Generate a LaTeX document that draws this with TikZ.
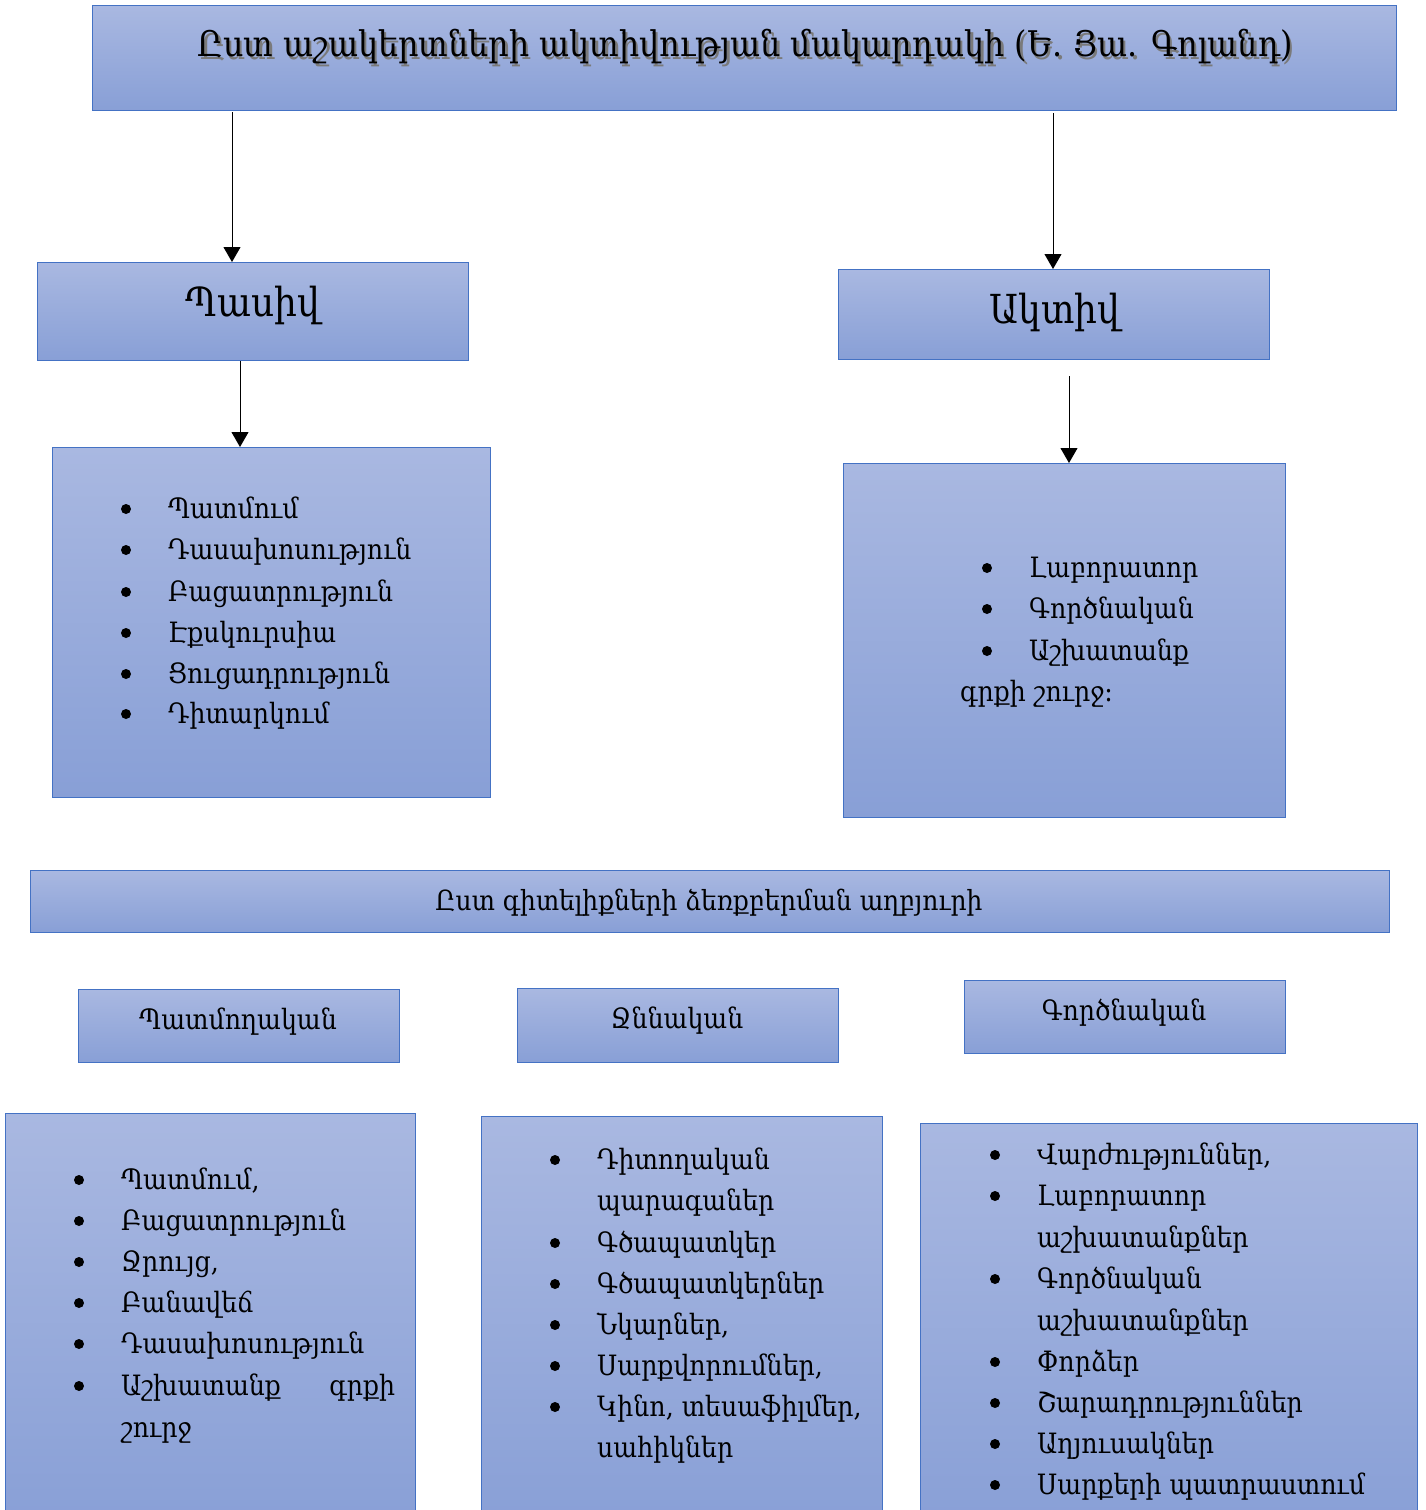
\documentclass[tikz,border=0pt]{standalone}
\usepackage{fontspec}
\setmainfont{DejaVu Serif}
\newfontfamily\condf{DejaVu Serif Condensed}
\usetikzlibrary{arrows.meta}
\definecolor{boxtop}{HTML}{A9B8E1}
\definecolor{boxbot}{HTML}{889FD6}
\definecolor{boxedge}{HTML}{4472C4}
\definecolor{shadowc}{HTML}{7A7A7A}
\tikzset{
  bx/.style={draw=boxedge,line width=1.3pt,top color=boxtop,bottom color=boxbot,inner sep=0pt,anchor=north west},
  lst/.style={inner sep=0pt,anchor=base west,font=\condf\fontsize{28}{34}\selectfont},
  arr/.style={-{Triangle[length=15pt,width=17pt]},line width=1pt,black},
  bigt/.style={inner sep=0pt,font=\condf\fontsize{40}{48}\selectfont},
  midt/.style={inner sep=0pt,font=\condf\fontsize{28}{34}\selectfont},
  bul/.style={fill=black},
}
\newcommand\mybox[5]{\node[bx,minimum width=#4pt,minimum height=#5pt] (#1) at (#2,#3) {};}
% item: name, text x, baseline y, text ; bullet drawn 42pt left of the text
\newcommand\itm[4]{\node[lst] (#1) at (#2,#3) {#4};
  \fill[bul] (#1.base west) ++(-42,-9) circle (5pt);}
\newcommand\cnt[4]{\node[lst] (#1) at (#2,#3) {#4};}
\begin{document}
\begin{tikzpicture}[x=1pt,y=-1pt]
\useasboundingbox (0,0) rectangle (1426,1510);
\clip (0,0) rectangle (1426,1510);
% boxes
\mybox{ttl}{92}{5}{1304}{105}
\mybox{pasiv}{37}{262}{431}{98}
\mybox{aktiv}{838}{269}{431}{90}
\mybox{plist}{52}{447}{438}{350}
\mybox{alist}{843}{463}{442}{354}
\mybox{sub}{30}{870}{1359}{62}
\mybox{b1}{78}{989}{321}{73}
\mybox{b2}{517}{988}{321}{74}
\mybox{b3}{964}{980}{321}{73}
\mybox{l1}{5}{1113}{410}{417}
\mybox{l2}{481}{1116}{401}{414}
\mybox{l3}{920}{1123}{497}{407}
% title with shadow
\node[inner sep=0pt,text=shadowc] (ttlsh) at (747.5,49.5) {\resizebox{1095pt}{!}{\condf\fontsize{32}{36}\selectfont Ըստ աշակերտների ակտիվության մակարդակի (Ե. Յա. Գոլանդ)}};
\node[inner sep=0pt] (ttltx) at (745,47) {\resizebox{1095pt}{!}{\condf\fontsize{32}{36}\selectfont Ըստ աշակերտների ակտիվության մակարդակի (Ե. Յա. Գոլանդ)}};
\node[bigt] (pasivtx) at (253,305) {Պասիվ};
\node[bigt] (aktivtx) at (1055,312) {Ակտիվ};
\node[inner sep=0pt] (subtx) at (709,903) {\resizebox{547pt}{!}{\condf\fontsize{28}{34}\selectfont Ըստ գիտելիքների ձեռքբերման աղբյուրի}};
\node[midt] (b1tx) at (238,1022) {Պատմողական};
\node[midt] (b2tx) at (677,1021) {Ջննական};
\node[midt] (b3tx) at (1124,1013) {Գործնական};
% arrows
\coordinate (a1s) at (232,112);
\coordinate (a2s) at (1053,113);
\coordinate (a4s) at (1069,376);
\draw[arr] (a1s) -- (a1s |- pasiv.north);
\draw[arr] (a2s) -- (a2s |- aktiv.north);
\draw[arr] (pasiv.south -| 240,0) -- (plist.north -| 240,0);
\draw[arr] (a4s) -- (a4s |- alist.north);
% pasiv list
\itm{p1}{168}{518}{Պատմում}
\itm{p2}{168}{559}{Դասախոսություն}
\itm{p3}{168}{601}{Բացատրություն}
\itm{p4}{168}{642}{Էքսկուրսիա}
\itm{p5}{168}{683}{Ցուցադրություն}
\itm{p6}{168}{723}{Դիտարկում}
% aktiv list
\itm{a1}{1029}{577}{Լաբորատոր}
\itm{a2}{1029}{618}{Գործնական}
\itm{a3}{1029}{660}{Աշխատանք}
\cnt{a4}{960}{701}{գրքի շուրջ:}
% left bottom list
\itm{q1}{121}{1189}{Պատմում,}
\itm{q2}{121}{1230}{Բացատրություն}
\itm{q3}{121}{1271}{Ջրույց,}
\itm{q4}{121}{1312}{Բանավեճ}
\itm{q5}{121}{1353}{Դասախոսություն}
\itm{q6}{121}{1395}{\makebox[274pt][s]{Աշխատանք\hfill գրքի}}
\cnt{q7}{121}{1437}{շուրջ}
% middle bottom list
\itm{r1}{597}{1169}{Դիտողական}
\cnt{r2}{597}{1210}{պարագաներ}
\itm{r3}{597}{1252}{Գծապատկեր}
\itm{r4}{597}{1293}{Գծապատկերներ}
\itm{r5}{597}{1334}{Նկարներ,}
\itm{r6}{597}{1375}{Սարքվորումներ,}
\itm{r7}{597}{1416}{Կինո, տեսաֆիլմեր,}
\cnt{r8}{597}{1457}{սահիկներ}
% right bottom list
\itm{s1}{1037}{1164}{Վարժություններ,}
\itm{s2}{1037}{1205}{Լաբորատոր}
\cnt{s3}{1037}{1247}{աշխատանքներ}
\itm{s4}{1037}{1288}{Գործնական}
\cnt{s5}{1037}{1330}{աշխատանքներ}
\itm{s6}{1037}{1371}{Փորձեր}
\itm{s7}{1037}{1412}{Շարադրություններ}
\itm{s8}{1037}{1453}{Աղյուսակներ}
\itm{s9}{1037}{1494}{Սարքերի պատրաստում}
\end{tikzpicture}
\end{document}
